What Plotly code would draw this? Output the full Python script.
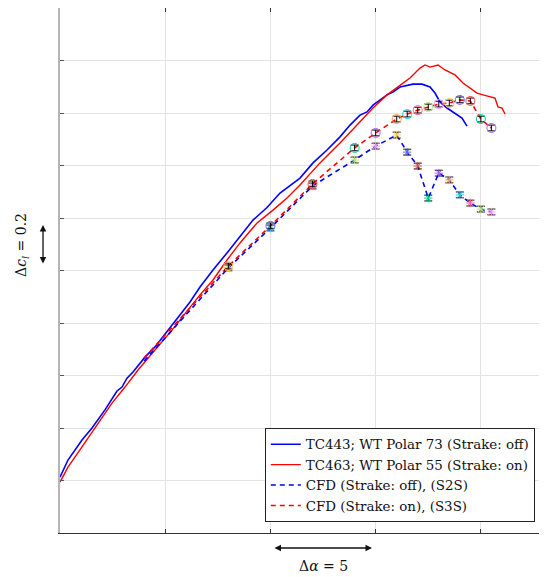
import plotly.graph_objects as go

# ---- data (alpha in deg, lift coefficient) ----
wt73_alpha = [-5.000, -4.620, -3.955, -3.479, -2.862, -2.291, -2.054, -1.816, -1.531, -1.103,
              -0.961, -0.486, 0.132, 0.798, 1.178, 1.653, 2.271, 2.936, 3.554, 4.172,
              4.837, 5.455, 6.405, 7.023, 7.688, 8.306, 8.781, 9.256, 9.589, 9.874,
              10.539, 10.825, 11.157, 11.775, 12.203, 12.583, 12.820, 13.058, 13.391, 13.771,
              14.103, 14.341]
wt73_cl = [0.213, 0.278, 0.354, 0.400, 0.469, 0.541, 0.556, 0.590, 0.613, 0.659,
           0.670, 0.709, 0.773, 0.838, 0.880, 0.937, 1.002, 1.067, 1.128, 1.192,
           1.240, 1.295, 1.352, 1.410, 1.459, 1.509, 1.554, 1.592, 1.604, 1.630,
           1.669, 1.680, 1.699, 1.710, 1.710, 1.699, 1.676, 1.642, 1.619, 1.600,
           1.581, 1.550]

wt55_alpha = [-5.000, -4.620, -3.955, -3.194, -2.529, -1.911, -1.293, -0.486, 0.322, 1.083,
              1.653, 2.271, 2.936, 3.554, 4.362, 5.122, 5.787, 6.405, 7.355, 8.306,
              9.114, 9.874, 10.539, 11.157, 11.632, 12.108, 12.345, 12.583, 12.963, 13.296,
              13.771, 14.151, 14.579, 14.816, 15.101, 15.434, 15.671, 15.814, 16.004, 16.147]
wt55_cl = [0.194, 0.251, 0.328, 0.419, 0.495, 0.556, 0.621, 0.697, 0.773, 0.850,
           0.907, 0.964, 1.040, 1.105, 1.181, 1.230, 1.276, 1.326, 1.410, 1.486,
           1.554, 1.619, 1.669, 1.707, 1.733, 1.771, 1.783, 1.775, 1.783, 1.764,
           1.745, 1.714, 1.688, 1.676, 1.669, 1.661, 1.657, 1.623, 1.619, 1.596]

cfd_alpha = [-1, 3, 5, 7, 9, 10, 11, 11.5, 12, 12.5, 13, 13.5, 14, 14.5, 15, 15.5]
cfd_off_cl = [0.655, 1.010, 1.162, 1.322, 1.421, 1.474, 1.516, 1.451, 1.398, 1.276,
              1.371, 1.345, 1.288, 1.257, 1.234, 1.223]
cfd_on_cl = [0.667, 1.017, 1.170, 1.330, 1.467, 1.524, 1.577, 1.596, 1.611, 1.623,
             1.634, 1.638, 1.650, 1.646, 1.577, 1.543]
cfd_err = 0.011

# ---- styles ----
cycle = ["#0072BD", "#D95319", "#EDB120", "#7E2F8E", "#77AC30", "#4DBEEE", "#A2142F"]
off_color_idx = [0, 1, 2, 3, 4, 5, 6, 0, 1, 2, 3, 4, 5, 6, 0]
on_color_idx = [0, 1, 3, 4, 5, 6, 0, 1, 2, 3, 4, 5, 6, 0, 1]
serif = "DejaVu Serif, Liberation Serif, serif"

fig = go.Figure()
fig.add_trace(go.Scatter(x=wt73_alpha, y=wt73_cl, mode="lines",
                         line=dict(color="#0000FF", width=1.6),
                         name="TC443; WT Polar 73 (Strake: off)"))
fig.add_trace(go.Scatter(x=wt55_alpha, y=wt55_cl, mode="lines",
                         line=dict(color="#FF0000", width=1.4),
                         name="TC463; WT Polar 55 (Strake: on)"))
fig.add_trace(go.Scatter(x=cfd_alpha, y=cfd_off_cl, mode="lines",
                         line=dict(color="#0000FF", width=1.6, dash="5px,4px"),
                         name="CFD (Strake: off), (S2S)"))
fig.add_trace(go.Scatter(x=cfd_alpha, y=cfd_on_cl, mode="lines",
                         line=dict(color="#FF0000", width=1.6, dash="5px,4px"),
                         name="CFD (Strake: on), (S3S)"))

for i in range(1, len(cfd_alpha)):
    c = cycle[off_color_idx[i - 1]]
    fig.add_trace(go.Scatter(x=[cfd_alpha[i]], y=[cfd_off_cl[i]], mode="markers",
                             marker=dict(symbol="asterisk-open", size=7,
                                         line=dict(color=c, width=1)),
                             error_y=dict(type="constant", value=cfd_err, color="black",
                                          thickness=1, width=4),
                             showlegend=False, hoverinfo="skip"))
for i in range(1, len(cfd_alpha)):
    c = cycle[on_color_idx[i - 1]]
    fig.add_trace(go.Scatter(x=[cfd_alpha[i]], y=[cfd_on_cl[i]], mode="markers",
                             marker=dict(symbol="circle-open", size=9,
                                         line=dict(color=c, width=1)),
                             error_y=dict(type="constant", value=cfd_err, color="black",
                                          thickness=1, width=4),
                             showlegend=False, hoverinfo="skip"))

fig.update_layout(
    width=539, height=569,
    margin=dict(l=52, r=3, t=0, b=44),
    plot_bgcolor="white", paper_bgcolor="white",
    showlegend=True,
    legend=dict(x=0.981, y=0.021, xanchor="right", yanchor="bottom",
                bordercolor="#222", borderwidth=1, bgcolor="white",
                font=dict(family=serif, size=13.4, color="#111"),
                tracegroupgap=0, itemwidth=30),
    annotations=[
        dict(xref="paper", yref="paper", x=0.6446, y=-0.0286, ax=-99, ay=0,
             showarrow=True, arrowside="end+start", arrowhead=2, arrowsize=1,
             arrowwidth=1.3, arrowcolor="#111", text=""),
        dict(xref="paper", yref="paper", x=0.5434, y=-0.0629, showarrow=False,
             text="Δ<i>α</i> = 5", font=dict(family=serif, size=14, color="#111"),
             xanchor="center", yanchor="middle"),
        dict(xref="paper", yref="paper", x=-0.0351, y=0.5867, ax=0, ay=40,
             showarrow=True, arrowside="end+start", arrowhead=2, arrowsize=1,
             arrowwidth=1.3, arrowcolor="#111", text=""),
        dict(xref="paper", yref="paper", x=-0.0785, y=0.5486, showarrow=False,
             text="Δ<i>c</i><sub><i>l</i></sub> = 0.2", textangle=-90,
             font=dict(family=serif, size=14, color="#111"),
             xanchor="center", yanchor="middle"),
    ],
)
fig.update_xaxes(range=[-5, 18.0], tick0=-5, dtick=5, showticklabels=False,
                 showgrid=True, gridcolor="#e3e3e3", gridwidth=1, zeroline=False,
                 showline=True, linecolor="#333", linewidth=1, mirror="allticks",
                 ticks="inside", ticklen=4, tickcolor="#333")
fig.update_yaxes(range=[0, 2.0], tick0=0, dtick=0.2, showticklabels=False,
                 showgrid=True, gridcolor="#e3e3e3", gridwidth=1, zeroline=False,
                 showline=True, linecolor="#b5b5b5", linewidth=2, mirror="allticks",
                 ticks="inside", ticklen=4, tickcolor="#555")

fig.write_html("out.html")
